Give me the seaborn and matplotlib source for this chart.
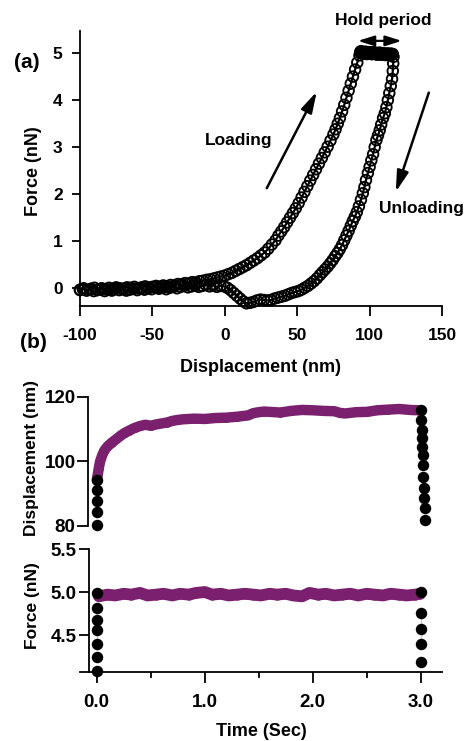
import numpy as np
import matplotlib
matplotlib.use("Agg")
import matplotlib.pyplot as plt
import seaborn as sns

# ---- panel (a): force vs displacement ----
load_x = [-100, -97.5, -95, -92.5, -90, -87.5, -85, -82.5, -80, -77.5, -75, -72.5, -70, -67.5,
          -65, -62.5, -60, -57.5, -55, -52.5, -50, -47.5, -45, -42.5, -40, -37.5, -35, -32.5,
          -30, -27.5, -25, -22.5, -20, -17.5, -15, -12.5, -10, -7.5, -5, -2.5, 0, 2.5, 5, 7.5,
          10, 12.5, 15, 17.5, 20, 22.5, 25, 27.5, 30, 32.5, 35, 37, 39, 41, 43, 45, 47, 49, 51,
          53, 55, 57, 59, 61, 63, 65, 67, 69, 71, 73, 75, 76.5, 78, 79.5, 81, 82.5, 84, 85.5,
          87, 88.5, 90, 91.5, 93]
load_f = [-0.03, 0.0, -0.04, -0.01, 0.01, -0.03, 0.0, -0.02, 0.01, -0.01, 0.02, 0.0, -0.01, 0.02,
          0.01, 0.03, 0.0, 0.02, 0.04, 0.01, 0.03, 0.05, 0.03, 0.06, 0.04, 0.07, 0.06, 0.09,
          0.08, 0.11, 0.1, 0.13, 0.12, 0.15, 0.16, 0.18, 0.19, 0.21, 0.23, 0.25, 0.27, 0.3, 0.33, 0.37,
          0.41, 0.45, 0.49, 0.54, 0.59, 0.64, 0.7, 0.76, 0.84, 0.93, 1.02, 1.12, 1.21, 1.3, 1.4, 1.5, 1.6, 1.7, 1.81,
          1.93, 2.05, 2.17, 2.29, 2.41, 2.53, 2.65, 2.77, 2.89, 3.01, 3.14, 3.27, 3.38, 3.5, 3.62, 3.76, 3.9, 4.05, 4.2,
          4.35, 4.5, 4.65, 4.8, 4.95]

hold_x = [93.5, 93.9, 94.2, 94.6, 95.0, 95.3, 95.7, 96.1, 96.5, 96.8, 97.2, 97.6, 98.0, 98.3,
          98.7, 99.1, 99.5, 99.8, 100.2, 100.6, 101.0, 101.3, 101.7, 102.1, 102.5, 102.8,
          103.2, 103.6, 104.0, 104.3, 104.7, 105.1, 105.5, 105.8, 106.2, 106.6, 107.0, 107.3,
          107.7, 108.1, 108.5, 108.8, 109.2, 109.6, 110.0, 110.3, 110.7, 111.1, 111.5, 111.8,
          112.2, 112.6, 113.0, 113.3, 113.7, 114.1, 114.5, 114.8, 115.2, 115.6, 116.0]
hold_f = [5.02, 5.04, 5.0, 5.01, 5.03, 5.0, 4.99, 5.02, 5.01, 5.0, 5.03, 5.01, 4.98, 5.0,
          5.0, 5.02, 5.02, 4.99, 4.99, 5.01, 5.01, 4.98, 4.98, 5.0, 5.0, 5.01, 5.02, 4.99,
          4.99, 4.98, 4.97, 4.99, 5.0, 4.97, 4.98, 5.0, 5.01, 4.98, 4.99, 4.97, 4.97, 4.99,
          5.0, 4.98, 4.98, 4.97, 4.96, 4.98, 4.99, 4.96, 4.97, 4.99, 4.98, 4.97, 4.96, 4.98,
          4.99, 4.96, 4.97, 4.98, 4.98]

unload_x = [116.5, 116.3, 116.0, 115.5, 114.6, 113.6, 112.6, 111.6, 110.5, 109.3, 108.0, 107.0, 105.8,
            104.7, 103.5, 102.4, 101.2, 100.0, 98.8, 97.5, 96.4, 95.3, 94.0, 92.6, 91.2, 89.8,
            88.4, 87.0, 85.5, 84.0, 82.5, 81.0, 79.4, 77.8, 76.2, 74.5, 72.8, 71.0, 69.2, 67.4,
            65.6, 63.6, 61.6, 59.5, 57.4, 55.2, 53.0, 50.8, 48.5, 46.2, 43.8, 41.4, 39.0, 36.6,
            34.2, 31.8, 29.4, 27.0, 24.6, 22.2, 19.8, 17.4, 15.0, 12.8, 10.6, 8.4, 6.2, 4.0, 1.8,
            -0.5, -3, -5.5, -8, -10.5, -13, -15.5, -18, -20.5, -23, -25.5, -28, -30.5, -33,
            -35.5, -38, -40.5, -43, -45.5, -48, -50.5, -53, -55.5, -58, -60.5, -63, -65.5, -68,
            -70.5, -73, -75.5, -78, -80.5, -83, -85.5, -88, -90.5, -93, -95.5, -98, -100]
unload_f = [4.92, 4.78, 4.62, 4.45, 4.3, 4.15, 4.0, 3.85, 3.72, 3.62, 3.48, 3.36, 3.25,
            3.15, 3.0, 2.85, 2.72, 2.58, 2.45, 2.3, 2.15, 2.02, 1.88, 1.74, 1.62, 1.52,
            1.43, 1.33, 1.22, 1.12, 1.02, 0.92, 0.83, 0.75, 0.68, 0.6, 0.53, 0.46, 0.4, 0.34,
            0.28, 0.21, 0.15, 0.1, 0.05, 0.01, -0.03, -0.06, -0.08, -0.1, -0.13, -0.16, -0.18, -0.2,
            -0.22, -0.25, -0.26, -0.25, -0.24, -0.26, -0.29, -0.31, -0.32, -0.28, -0.22, -0.16, -0.1, -0.04, 0.01,
            0.04, 0.05, 0.03, 0.06, 0.04, 0.07, 0.05, 0.03, 0.06, 0.04, 0.02, 0.05, 0.03, 0.0,
            0.03, 0.01, -0.02, 0.01, -0.01, 0.02, -0.02, 0.0, -0.03, -0.01, -0.04, -0.01, -0.03, -0.05,
            -0.02, -0.04, -0.01, -0.05, -0.03, -0.06, -0.02, -0.04, -0.06, -0.03, -0.05, -0.02, -0.04]

# ---- panel (b): displacement vs time during hold ----
hold_t = [0.0, 0.01, 0.02, 0.03, 0.05, 0.07, 0.1, 0.14, 0.18, 0.22, 0.26, 0.3, 0.35, 0.4, 0.45,
          0.5, 0.55, 0.6, 0.65, 0.7, 0.75, 0.8, 0.9, 1.0, 1.1, 1.2, 1.3, 1.4, 1.45, 1.5, 1.55,
          1.6, 1.7, 1.8, 1.9, 2.0, 2.1, 2.2, 2.25, 2.3, 2.4, 2.5, 2.6, 2.7, 2.8, 2.9, 2.97]
hold_disp = [94.2, 96.0, 98.0, 99.8, 101.8, 103.3, 104.6, 105.8, 106.8, 107.9, 108.8, 109.5, 110.3, 110.9, 111.3,
             111.0, 111.4, 111.7, 112.0, 112.5, 112.8, 113.0, 113.2, 113.1, 113.4, 113.5, 113.8, 114.2, 114.9, 115.2, 115.4,
             115.3, 115.1, 115.6, 115.9, 115.8, 115.6, 115.5, 115.0, 114.8, 115.2, 115.3, 115.8, 116.0, 116.2, 115.9, 115.8]
start_t = [0.005, 0.005, 0.005, 0.005, 0.005]
start_disp = [80.2, 84.1, 87.8, 91.1, 94.2]
end_t = [3.0, 3.005, 3.01, 3.012, 3.015, 3.018, 3.02, 3.025, 3.03, 3.032, 3.035, 3.04]
end_disp = [115.8, 112.7, 109.6, 107.1, 104.5, 101.9, 98.8, 95.2, 91.6, 88.5, 85.4, 81.8]

# ---- panel (b): force vs time during hold ----
force_t = [0.02, 0.1, 0.17, 0.25, 0.32, 0.4, 0.47, 0.55, 0.62, 0.7, 0.77, 0.85, 0.92, 1.0,
           1.07, 1.15, 1.22, 1.3, 1.37, 1.45, 1.52, 1.6, 1.67, 1.75, 1.82, 1.9, 1.97, 2.05,
           2.12, 2.2, 2.27, 2.35, 2.42, 2.5, 2.57, 2.65, 2.72, 2.8, 2.87, 2.95, 2.99]
force_f = [4.95, 4.97, 4.96, 4.98, 4.97, 4.99, 4.96, 4.97, 4.98, 4.96, 4.98, 4.97, 4.99, 5.0,
           4.97, 4.98, 4.96, 4.97, 4.98, 4.97, 4.96, 4.98, 4.97, 4.98, 4.96, 4.95, 4.99, 4.97,
           4.98, 4.96, 4.97, 4.98, 4.96, 4.98, 4.97, 4.96, 4.98, 4.97, 4.96, 4.97, 4.98]
fstart_t = [0.0, 0.0, 0.0, 0.0, 0.0, 0.0, 0.0]
fstart_f = [4.99, 4.82, 4.67, 4.56, 4.40, 4.24, 4.08]
fend_t = [3.0, 3.0, 3.0, 3.0, 3.0]
fend_f = [5.0, 4.76, 4.57, 4.40, 4.19]

PURPLE = "#7a206e"

sns.set_theme(style="ticks")
plt.rcParams['font.family'] = ['Liberation Sans', 'DejaVu Sans']
plt.rcParams['font.weight'] = 'bold'
plt.rcParams['axes.linewidth'] = 1.3
plt.rcParams['axes.unicode_minus'] = False
for key in ['text.color', 'axes.labelcolor', 'xtick.color', 'ytick.color', 'axes.edgecolor']:
    plt.rcParams[key] = 'black'

W, H = 468, 741
fig = plt.figure(figsize=(W / 100, H / 100), dpi=100)


def fx(px):
    return px / W


def fy(py):
    return 1 - py / H


# ========== (a) ==========
ax1 = fig.add_axes([fx(80), fy(306), fx(362), 275 / H])
for xs, ys in [(load_x, load_f), (hold_x, hold_f), (unload_x, unload_f)]:
    # trace through the points, then open circles on top
    sns.lineplot(x=xs, y=ys, ax=ax1, color='black', lw=1.6, sort=False, legend=False)
    sns.scatterplot(x=xs, y=ys, ax=ax1, marker='o', s=58, color='none',
                    edgecolor='black', linewidth=1.35, legend=False, clip_on=False)
ax1.set_xlim(-100, 150)
ax1.set_ylim(-0.377, 5.47)
ax1.set_xticks([-100, -50, 0, 50, 100, 150])
ax1.set_yticks([0, 1, 2, 3, 4, 5])
ax1.tick_params(axis='x', length=7.5, width=1.3, pad=8, labelsize=12.5)
ax1.tick_params(axis='y', length=5.5, width=1.3, pad=7, labelsize=12.5)
sns.despine(ax=ax1)
ax1.set_xlabel('')
ax1.set_ylabel('')

arrow_kw = dict(arrowstyle='-|>,head_length=0.9,head_width=0.25', lw=1.8, color='black',
                shrinkA=0, shrinkB=0, mutation_scale=14)
ax1.annotate('', xy=(63.5, 4.18), xytext=(29.0, 2.13), arrowprops=arrow_kw)
ax1.annotate('', xy=(118.1, 2.05), xytext=(140.9, 4.16), arrowprops=arrow_kw, annotation_clip=False)
ax1.annotate('', xy=(122.2, 5.26), xytext=(91.9, 5.26), annotation_clip=False,
             arrowprops=dict(arrowstyle='<|-|>,head_length=0.7,head_width=0.22', lw=1.6,
                             color='black', shrinkA=0, shrinkB=0, mutation_scale=14))

fig.text(fx(383), fy(21), 'Hold period', ha='center', va='center', fontsize=12.5, fontweight='bold')
fig.text(fx(239), fy(140), 'Loading', ha='center', va='center', fontsize=12.5, fontweight='bold')
fig.text(fx(422), fy(208), 'Unloading', ha='center', va='center', fontsize=12.5, fontweight='bold')
fig.text(fx(261), fy(367), 'Displacement (nm)', ha='center', va='center', fontsize=13, fontweight='bold')
fig.text(fx(34), fy(171), 'Force (nN)', ha='center', va='center', rotation=90, fontsize=13, fontweight='bold')
fig.text(fx(27), fy(63), '(a)', ha='center', va='center', fontsize=15, fontweight='bold')
fig.text(fx(33), fy(343), '(b)', ha='center', va='center', fontsize=15, fontweight='bold')

# ========== (b) top: displacement ==========
ax2 = fig.add_axes([fx(80), fy(532), fx(362), 140 / H])
sns.lineplot(x=hold_t, y=hold_disp, ax=ax2, color=PURPLE, lw=7.5, sort=False,
             solid_capstyle='round', legend=False)
sns.scatterplot(x=hold_t, y=hold_disp, ax=ax2, color=PURPLE, s=40, linewidth=0, legend=False)
for ts, ds in [(start_t, start_disp), (end_t, end_disp)]:
    sns.scatterplot(x=ts, y=ds, ax=ax2, color='black', s=68, linewidth=0, legend=False, zorder=3)
ax2.set_xlim(-0.155, 3.197)
ax2.set_ylim(78.05, 121.46)
ax2.set_yticks([80, 100, 120])
ax2.spines['left'].set_bounds(80, 120)
ax2.spines['left'].set_position(('data', -0.08))
for s in ['top', 'right', 'bottom']:
    ax2.spines[s].set_visible(False)
ax2.set_xticks([])
ax2.tick_params(axis='y', length=8, width=1.3, pad=1, labelsize=13.5)
ax2.set_xlabel('')
ax2.set_ylabel('')
fig.text(fx(32), fy(458), 'Displacement (nm)', ha='center', va='center', rotation=90,
         fontsize=12.5, fontweight='bold')

# ========== (b) bottom: force ==========
ax3 = fig.add_axes([fx(80), fy(672), fx(362), 127 / H])
sns.lineplot(x=force_t, y=force_f, ax=ax3, color=PURPLE, lw=8.5, sort=False,
             solid_capstyle='round', legend=False)
sns.scatterplot(x=force_t, y=force_f, ax=ax3, color=PURPLE, s=55, linewidth=0, legend=False)
for ts, fs in [(fstart_t, fstart_f), (fend_t, fend_f)]:
    sns.lineplot(x=ts, y=fs, ax=ax3, color='black', lw=1.2, sort=False, legend=False)
    sns.scatterplot(x=ts, y=fs, ax=ax3, color='black', s=68, linewidth=0, legend=False,
                    zorder=3, clip_on=False)
ax3.set_xlim(-0.155, 3.197)
ax3.set_ylim(4.07, 5.547)
ax3.set_yticks([4.5, 5.0, 5.5])
ax3.set_yticklabels(['4.5', '5.0', '5.5'])
ax3.set_xticks([0, 1, 2, 3])
ax3.set_xticklabels(['0.0', '1.0', '2.0', '3.0'])
ax3.set_xticks([0.5, 1.5, 2.5], minor=True)
ax3.spines['left'].set_bounds(4.07, 5.5)
ax3.spines['left'].set_position(('data', -0.072))
sns.despine(ax=ax3)
ax3.tick_params(axis='x', which='major', length=8, width=1.3, pad=8, labelsize=13.5)
ax3.tick_params(axis='x', which='minor', length=4, width=1.3)
ax3.tick_params(axis='y', length=7, width=1.3, pad=2, labelsize=13.5)
ax3.set_xlabel('')
ax3.set_ylabel('')
fig.text(fx(32), fy(606), 'Force (nN)', ha='center', va='center', rotation=90,
         fontsize=12.5, fontweight='bold')
fig.text(fx(261), fy(732), 'Time (Sec)', ha='center', va='center', fontsize=13, fontweight='bold')

fig.savefig('out.png', dpi=100)
